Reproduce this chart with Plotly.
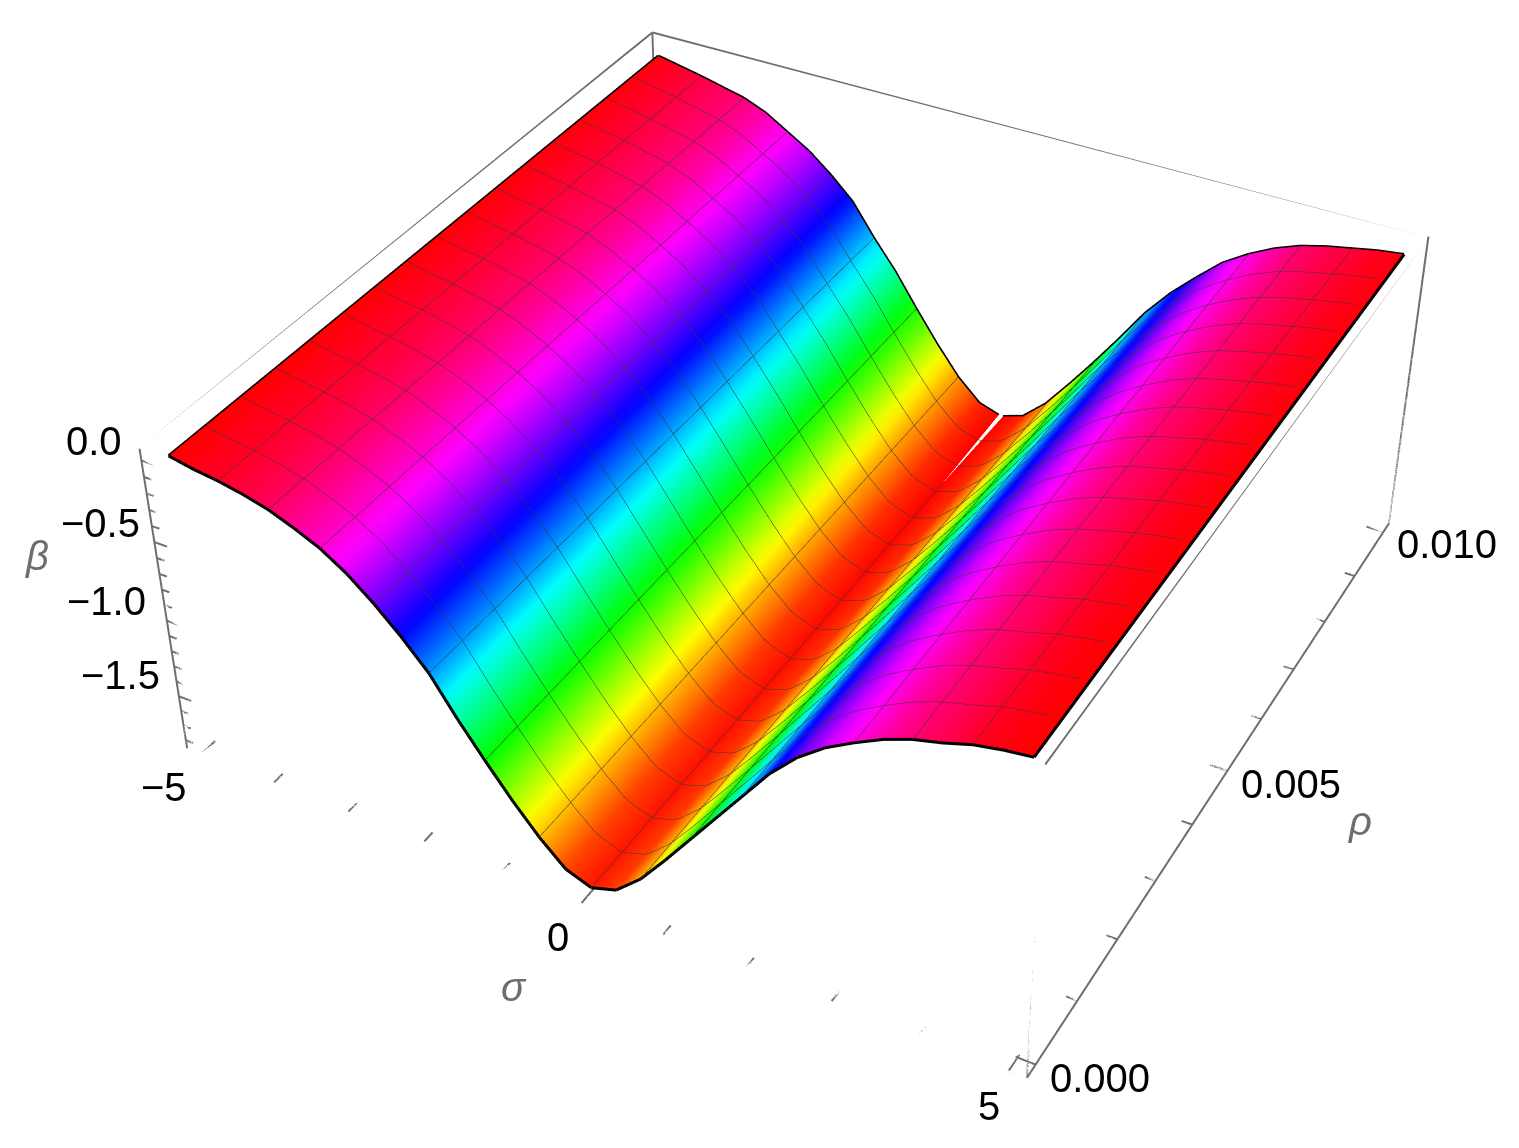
import plotly.graph_objects as go

# values
sigma_vals = [-5.0, -4.6875, -4.375, -4.0625, -3.75, -3.4375, -3.125, -2.8125, -2.5, -2.1875, -1.875,
              -1.5625, -1.25, -0.9375, -0.625, -0.3125, 0.0, 0.3125, 0.625, 0.9375, 1.25, 1.5625, 1.875,
              2.1875, 2.5, 2.8125, 3.125, 3.4375, 3.75, 4.0625, 4.375, 4.6875, 5.0]
rho_vals = [0.0, 0.01]
beta_front = [0.0, -0.03, -0.05, -0.08, -0.12, -0.18, -0.25, -0.35, -0.48, -0.63, -0.80,
              -1.03, -1.24, -1.44, -1.62, -1.77, -1.83, -1.78, -1.64, -1.45, -1.25, -1.05, -0.85,
              -0.65, -0.49, -0.37, -0.28, -0.20, -0.14, -0.10, -0.05, -0.02, 0.0]
beta_back = [-0.02, -0.05, -0.08, -0.115, -0.15, -0.21, -0.30, -0.39, -0.51, -0.65, -0.86,
             -1.05, -1.27, -1.48, -1.67, -1.81, -1.86, -1.81, -1.67, -1.48, -1.28, -1.07, -0.85,
             -0.67, -0.52, -0.38, -0.28, -0.20, -0.14, -0.10, -0.07, -0.04, -0.02]

sigma_range = [-5.2, 5.2]
rho_range = [-0.0002, 0.0102]
beta_range = [-1.855, 0.07]

sigma_ticks = [-5, -4, -3, -2, -1, 0, 1, 2, 3, 4, 5]
rho_ticks = [0.0, 0.001, 0.002, 0.003, 0.004, 0.005, 0.006, 0.007, 0.008, 0.009, 0.01]
beta_ticks = [0.0, -0.1, -0.2, -0.3, -0.4, -0.5, -0.6, -0.7, -0.8, -0.9, -1.0,
              -1.1, -1.2, -1.3, -1.4, -1.5, -1.6, -1.7, -1.8]

# Mathematica Hue: red at the bottom of the range, red again at the top
hue_scale = [[0, '#ff0000'], [1/6, '#ffff00'], [2/6, '#00ff00'], [3/6, '#00ffff'],
             [4/6, '#0000ff'], [5/6, '#ff00ff'], [1, '#ff0000']]

GREY = '#6e6e6e'
MESH = '#383838'
FONT = 'Liberation Sans'


def segments(pairs):
    xs, ys, zs = [], [], []
    for a, b in pairs:
        xs += [a[0], b[0], None]
        ys += [a[1], b[1], None]
        zs += [a[2], b[2], None]
    return xs, ys, zs


def line_trace(pairs, color, width):
    xs, ys, zs = segments(pairs)
    return go.Scatter3d(x=xs, y=ys, z=zs, mode='lines', line=dict(color=color, width=width),
                        hoverinfo='skip', showlegend=False)


x0, x1 = sigma_range
y0, y1 = rho_range
z0, z1 = beta_range

box_edges = [
    ((x0, y0, z0), (x1, y0, z0)), ((x0, y1, z0), (x1, y1, z0)),
    ((x0, y0, z1), (x1, y0, z1)), ((x0, y1, z1), (x1, y1, z1)),
    ((x0, y0, z0), (x0, y1, z0)), ((x1, y0, z0), (x1, y1, z0)),
    ((x0, y0, z1), (x0, y1, z1)), ((x1, y0, z1), (x1, y1, z1)),
    ((x0, y0, z0), (x0, y0, z1)), ((x1, y0, z0), (x1, y0, z1)),
    ((x0, y1, z0), (x0, y1, z1)), ((x1, y1, z0), (x1, y1, z1)),
]

tick_marks = []
for s in sigma_ticks:
    ln = 0.00025 if s in (-5, 0, 5) else 0.00016
    tick_marks.append(((s, y0, z0), (s, y0 + ln, z0)))
for r in rho_ticks:
    ln = 0.22 if r in (0.0, 0.005, 0.01) else 0.125
    tick_marks.append(((x1, r, z0), (x1 - ln, r, z0)))
for b in beta_ticks:
    ln = 0.17 if b in (0.0, -0.5, -1.0, -1.5) else 0.1
    tick_marks.append(((x0, y0, b), (x0 + ln, y0, b)))

surface = go.Surface(
    x=sigma_vals, y=rho_vals, z=[beta_front, beta_back],
    surfacecolor=[beta_front, beta_back], colorscale=hue_scale, cmin=-1.86, cmax=0.0,
    showscale=False, hoverinfo='skip',
    lighting=dict(ambient=0.55, diffuse=1.0, specular=0.0, roughness=1.0, fresnel=0.0),
    lightposition=dict(x=10000, y=-1000, z=5500),
    contours=dict(
        x=dict(show=True, start=-5, end=5.001, size=0.625, color=MESH, width=4, highlight=False),
        y=dict(show=True, start=0, end=0.01001, size=0.000625, color=MESH, width=4, highlight=False),
        z=dict(show=False, highlight=False),
    ),
)

boundary = []
for i in range(len(sigma_vals) - 1):
    boundary.append(((sigma_vals[i], 0.0, beta_front[i]), (sigma_vals[i + 1], 0.0, beta_front[i + 1])))
    boundary.append(((sigma_vals[i], 0.01, beta_back[i]), (sigma_vals[i + 1], 0.01, beta_back[i + 1])))
boundary.append(((sigma_vals[0], 0.0, beta_front[0]), (sigma_vals[0], 0.01, beta_back[0])))
boundary.append(((sigma_vals[-1], 0.0, beta_front[-1]), (sigma_vals[-1], 0.01, beta_back[-1])))

fig = go.Figure([surface, line_trace(boundary, '#000000', 6), line_trace(box_edges, GREY, 4),
                 line_trace(tick_marks, GREY, 4)])


def label(text, x, y, z, dx, dy, color='#000000', size=40):
    return dict(text=text, x=x, y=y, z=z, xshift=dx, yshift=dy, showarrow=False,
                xanchor='center', yanchor='middle', font=dict(family=FONT, size=size, color=color))


MINUS = '\u2212'
labels = [
    label('0.0', x0, y0, 0.0, -47, 19),
    label(MINUS + '0.5', x0, y0, -0.5, -54, 19),
    label(MINUS + '1.0', x0, y0, -1.0, -60, 20),
    label(MINUS + '1.5', x0, y0, -1.5, -58, 21),
    label(MINUS + '5', -5, y0, z0, -37, -33),
    label('0', 0, y0, z0, -24, -34),
    label('5', 5, y0, z0, -20, -35),
    label('0.000', x1, 0.0, z0, 64, -13),
    label('0.005', x1, 0.005, z0, 64, -13),
    label('0.010', x1, 0.01, z0, 64, -12),
    label('<i>\u03c3</i>', 0, y0, z0, -68, -84, GREY),
    label('<i>\u03c1</i>', x1, 0.005, z0, 133, -50, GREY),
    label('<i>\u03b2</i>', x0, y0, -0.5, -117, -14, GREY),
]

hidden = dict(visible=False, showbackground=False, showgrid=False, zeroline=False, showspikes=False)
# the picture has a long lens, wider than plotly's fixed 45 degree view allows at window size,
# so the scene is drawn large and the page is shifted to bring the view centre to its place
fig.update_layout(
    width=1632, height=2568, margin=dict(l=0, r=0, t=0, b=0), paper_bgcolor='white', showlegend=False,
    scene=dict(
        domain=dict(x=[0, 1], y=[0, 1]),
        xaxis=dict(range=sigma_range, **hidden),
        yaxis=dict(range=rho_range, **hidden),
        zaxis=dict(range=beta_range, **hidden),
        aspectmode='manual', aspectratio=dict(x=1, y=1.0005, z=0.3972),
        camera=dict(eye=dict(x=1.2991, y=-2.3981, z=2.0075), center=dict(x=0, y=0, z=0),
                    up=dict(x=0.0003, y=0.0008, z=1)),
        annotations=labels,
    ),
)

shift = ("var gd=document.getElementById('{plot_id}');gd.style.position='absolute';"
         "gd.style.left='0px';gd.style.top='-795px';"
         "document.documentElement.style.overflow='hidden';document.body.style.overflow='hidden';")
fig.write_html("out.html", post_script=shift)
